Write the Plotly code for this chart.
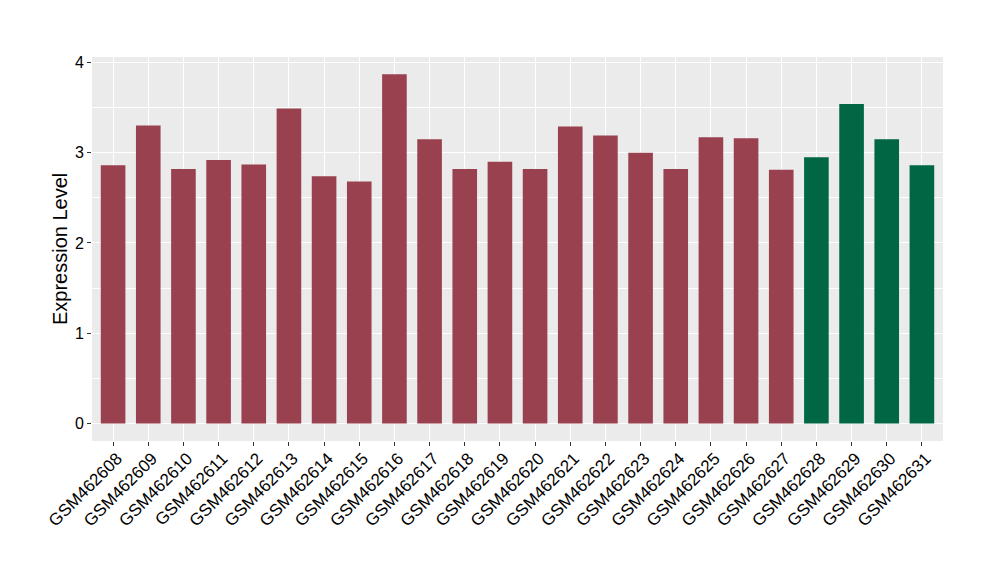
import plotly.graph_objects as go

samples = ["GSM462608", "GSM462609", "GSM462610", "GSM462611", "GSM462612", "GSM462613",
           "GSM462614", "GSM462615", "GSM462616", "GSM462617", "GSM462618", "GSM462619",
           "GSM462620", "GSM462621", "GSM462622", "GSM462623", "GSM462624", "GSM462625",
           "GSM462626", "GSM462627", "GSM462628", "GSM462629", "GSM462630", "GSM462631"]
values = [2.86, 3.30, 2.82, 2.92, 2.87, 3.49, 2.74, 2.68, 3.87, 3.15, 2.82, 2.90,
          2.82, 3.29, 3.19, 3.00, 2.82, 3.17, 3.16, 2.81, 2.95, 3.54, 3.15, 2.86]
groups = ["a"] * 20 + ["b"] * 4
group_colors = {"a": "#9A4150", "b": "#006643"}
y_title = "Expression Level"

fig = go.Figure()
fig.add_trace(go.Bar(
    x=samples, y=values,
    marker=dict(color=[group_colors[g] for g in groups], line=dict(width=0)),
    width=0.7, showlegend=False,
))

fig.update_layout(
    width=1000, height=580,
    margin=dict(l=84, r=65, t=49, b=147),
    paper_bgcolor="white", plot_bgcolor="#EBEBEB",
    font=dict(family="Liberation Sans, Arial, sans-serif", color="black", size=16),
)
fig.update_xaxes(
    type="category", range=[-0.6, 23.6], automargin=False,
    tickangle=-45, showgrid=True, gridcolor="white", gridwidth=1.2,
    ticks="outside", ticklen=4, tickcolor="#333333",
    ticklabelshift=4, ticklabelstandoff=-4,
    tickfont=dict(size=17, color="black"), showline=False, zeroline=False,
)
fig.update_yaxes(
    range=[-0.194, 4.06], tickvals=[0, 1, 2, 3, 4], automargin=False,
    showgrid=True, gridcolor="white", gridwidth=1.2,
    minor=dict(tickvals=[0.5, 1.5, 2.5, 3.5], showgrid=True, gridcolor="white", gridwidth=0.6, ticks=""),
    ticks="outside", ticklen=4, tickcolor="#333333",
    tickfont=dict(size=16, color="black"), zeroline=False, showline=False,
)
fig.add_annotation(
    text=y_title, textangle=-90, xref="paper", yref="paper",
    x=0, y=0.5, xanchor="right", yanchor="middle", xshift=-19,
    showarrow=False, font=dict(size=20, color="black"),
)

fig.write_html("out.html")
